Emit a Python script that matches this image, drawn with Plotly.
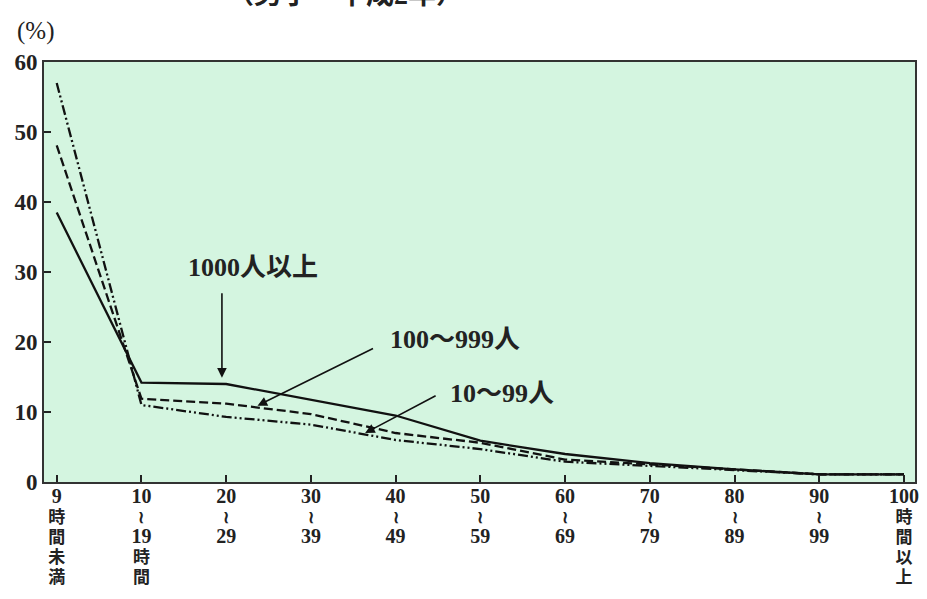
import plotly.graph_objects as go

categories = ["9<br>時<br>間<br>未<br>満", "10<br>≀<br>19<br>時<br>間", "20<br>≀<br>29", "30<br>≀<br>39",
              "40<br>≀<br>49", "50<br>≀<br>59", "60<br>≀<br>69", "70<br>≀<br>79",
              "80<br>≀<br>89", "90<br>≀<br>99", "100<br>時<br>間<br>以<br>上"]
series_1000 = [38.5, 14.2, 14.0, 11.7, 9.5, 5.9, 4.0, 2.7, 1.8, 1.1, 1.1]
series_100_999 = [48.1, 11.9, 11.2, 9.7, 7.0, 5.6, 3.2, 2.5, 1.7, 1.1, 1.1]
series_10_99 = [57.0, 11.0, 9.3, 8.2, 6.0, 4.7, 2.9, 2.3, 1.7, 1.1, 1.1]
y_ticks = [0, 10, 20, 30, 40, 50, 60]

xs = list(range(len(categories)))
FONT = "Liberation Serif, Noto Sans CJK JP, serif"


def style_label(label):
    parts = []
    for p in label.split("<br>"):
        if p.isdigit():
            parts.append('<span style="font-size:20px">' + p + "</span>")
        else:
            parts.append('<span style="font-size:17px">' + p + "</span>")
    return "<br>".join(parts)


fig = go.Figure()
fig.add_trace(go.Scatter(x=xs, y=series_1000, mode="lines", name="1000人以上",
                         line=dict(color="#111", width=2.3)))
fig.add_trace(go.Scatter(x=xs, y=series_100_999, mode="lines", name="100～999人",
                         line=dict(color="#111", width=2.3, dash="9px,4px")))
fig.add_trace(go.Scatter(x=xs, y=series_10_99, mode="lines", name="10～99人",
                         line=dict(color="#111", width=2.3, dash="10px,3px,2px,3px,2px,3px")))

fig.update_layout(
    width=927, height=599,
    margin=dict(l=44, r=12, t=62, b=117, autoexpand=False),
    paper_bgcolor="white", plot_bgcolor="#d4f5e0",
    showlegend=False,
    font=dict(family=FONT, color="#222"),
    xaxis=dict(range=[-0.15, 10.13], tickmode="array", tickvals=xs,
               ticktext=[style_label(c) for c in categories],
               ticks="inside", ticklen=7, tickwidth=2, tickcolor="#222",
               showline=True, linecolor="#333", linewidth=2, mirror=True,
               showgrid=False, zeroline=False, automargin=False, ticklabelstandoff=0,
               tickfont=dict(family=FONT, size=15.5, color="#222", weight="bold")),
    yaxis=dict(range=[0, 60], tickmode="array", tickvals=y_ticks,
               ticktext=[str(v) for v in y_ticks],
               ticks="inside", ticklen=7, tickwidth=2, tickcolor="#222",
               showline=True, linecolor="#333", linewidth=2, mirror=True,
               showgrid=False, zeroline=False, automargin=False,
               tickfont=dict(family=FONT, size=23, color="#222", weight="bold")),
)

ann_font = dict(family=FONT, size=26, color="#222", weight="bold")
arrow = dict(showarrow=True, arrowhead=2, arrowsize=1.2, arrowwidth=1.6, arrowcolor="#111", text="")
fig.add_annotation(x=1.95, y=14.9, ax=0, ay=-86, xref="x", yref="y", **arrow)
fig.add_annotation(x=2.32, y=30.6, xref="x", yref="y", text="1000人以上", showarrow=False,
                   font=ann_font)
fig.add_annotation(x=2.37, y=10.9, ax=117, ay=-58, xref="x", yref="y", **arrow)
fig.add_annotation(x=4.70, y=20.3, xref="x", yref="y", text="100～999人", showarrow=False,
                   font=ann_font)
fig.add_annotation(x=3.64, y=7.0, ax=72, ay=-38, xref="x", yref="y", **arrow)
fig.add_annotation(x=5.25, y=12.7, xref="x", yref="y", text="10～99人", showarrow=False,
                   font=ann_font)
fig.add_annotation(x=-0.01, y=1.075, xref="paper", yref="paper", xanchor="center", yanchor="middle",
                   text="(%)", showarrow=False, font=dict(family=FONT, size=25, color="#222"))
fig.add_annotation(x=0.346, y=1.119, xref="paper", yref="paper", xanchor="center", yanchor="bottom",
                   text="（男子・平成2年）", showarrow=False,
                   font=dict(family=FONT, size=28, color="#222", weight="bold"))

fig.write_html("out.html")
